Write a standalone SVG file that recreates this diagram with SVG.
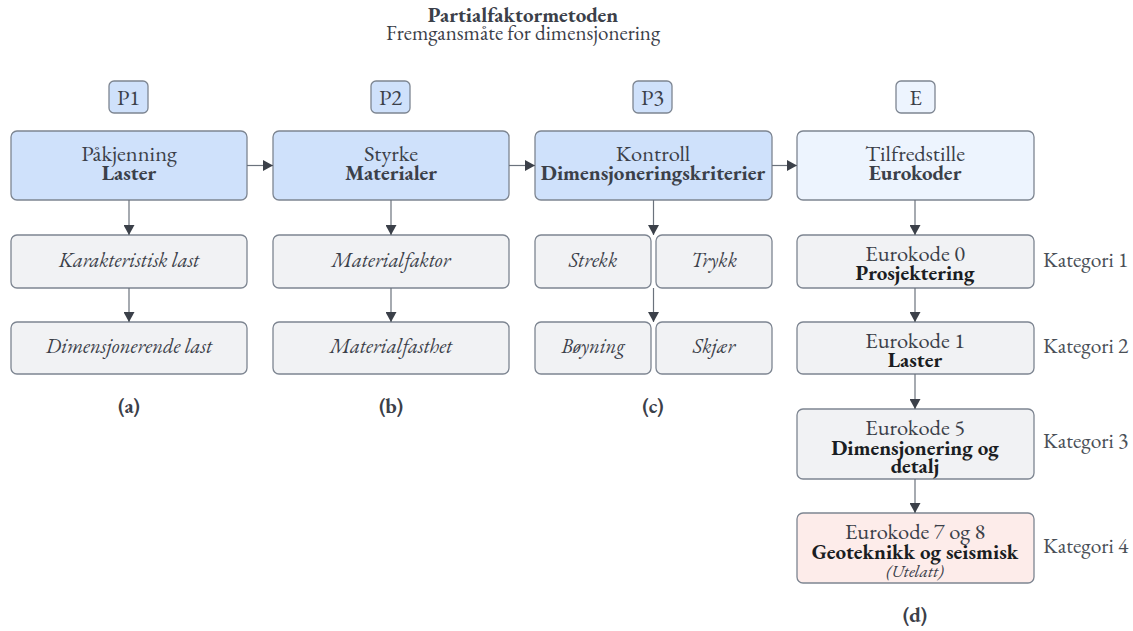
<svg xmlns="http://www.w3.org/2000/svg" width="1133" height="631" viewBox="0 0 1133 631" font-family="'EB Garamond', 'Liberation Serif', serif">
<style>
text{fill:#3b4049;text-anchor:middle}
.b{font-weight:bold}
.i{font-style:italic}
.blk{fill:#1a1d22}
.main{fill:#cfe1fb;stroke:#7d8591;stroke-width:1.3}
.mainE{fill:#edf4fe;stroke:#7d8591;stroke-width:1.3}
.tag{fill:#cfe1fb;stroke:#7d8591;stroke-width:1.3}
.tagE{fill:#edf4fe;stroke:#7d8591;stroke-width:1.3}
.sub{fill:#f1f2f4;stroke:#7d8591;stroke-width:1.3}
.red{fill:#fdecea;stroke:#7d8591;stroke-width:1.3}
.c{stroke:#6b727c;stroke-width:1.2;fill:none;marker-end:url(#ah)}
.t1{font-size:22.5px}
.t2{font-size:21px}
.ti{font-size:20.5px}
.kat{font-size:21.5px;text-anchor:start;fill:#4a4f57}
.lab{font-size:21px;font-weight:bold}
</style>
<defs>
<marker id="ah" viewBox="0 0 10 10" refX="10" refY="5" markerWidth="10" markerHeight="11" markerUnits="userSpaceOnUse" orient="auto" preserveAspectRatio="none">
<path d="M0,0 L10,5 L0,10 z" fill="#3b4049"/>
</marker>
</defs>
<g id="title" font-family="'EB Garamond', 'Liberation Serif', serif">
<text x="523" y="22" class="b" font-size="21">Partialfaktormetoden</text>
<text x="523" y="40" font-size="21">Fremgansmåte for dimensjonering</text>
</g>
<g id="tag-p1" font-family="'EB Garamond', 'Liberation Serif', serif"><rect class="tag" x="109" y="81" width="39" height="32" rx="5"/><text x="128.5" y="105" class="t1">P1</text></g>
<g id="tag-p2" font-family="'EB Garamond', 'Liberation Serif', serif"><rect class="tag" x="371" y="81" width="39" height="32" rx="5"/><text x="390.5" y="105" class="t1">P2</text></g>
<g id="tag-p3" font-family="'EB Garamond', 'Liberation Serif', serif"><rect class="tag" x="633" y="81" width="39" height="32" rx="5"/><text x="652.5" y="105" class="t1">P3</text></g>
<g id="tag-e" font-family="'EB Garamond', 'Liberation Serif', serif"><rect class="tagE" x="896" y="81" width="39" height="32" rx="5"/><text x="915.5" y="105" class="t1">E</text></g>
<g id="n-pakjenning" font-family="'EB Garamond', 'Liberation Serif', serif"><rect class="main" x="11" y="131" width="236" height="69" rx="6"/><text x="129" y="161" class="t1">Påkjenning</text><text x="129" y="180" class="t2 b">Laster</text></g>
<g id="n-styrke" font-family="'EB Garamond', 'Liberation Serif', serif"><rect class="main" x="273" y="131" width="236" height="69" rx="6"/><text x="391" y="161" class="t1">Styrke</text><text x="391" y="180" class="t2 b">Materialer</text></g>
<g id="n-kontroll" font-family="'EB Garamond', 'Liberation Serif', serif"><rect class="main" x="535" y="131" width="237" height="69" rx="6"/><text x="653" y="161" class="t1">Kontroll</text><text x="653" y="180" class="t2 b">Dimensjoneringskriterier</text></g>
<g id="n-tilfredsstille" font-family="'EB Garamond', 'Liberation Serif', serif"><rect class="mainE" x="797" y="131" width="237" height="69" rx="6"/><text x="915" y="161" class="t1">Tilfredstille</text><text x="915" y="180" class="t2 b">Eurokoder</text></g>
<g id="n-karlast" font-family="'EB Garamond', 'Liberation Serif', serif"><rect class="sub" x="11" y="235" width="236" height="53" rx="6"/><text x="129" y="267" class="ti i">Karakteristisk last</text></g>
<g id="n-dimlast" font-family="'EB Garamond', 'Liberation Serif', serif"><rect class="sub" x="11" y="322" width="236" height="52" rx="6"/><text x="129" y="353" class="ti i">Dimensjonerende last</text></g>
<g id="n-matfaktor" font-family="'EB Garamond', 'Liberation Serif', serif"><rect class="sub" x="273" y="235" width="236" height="53" rx="6"/><text x="391" y="267" class="ti i">Materialfaktor</text></g>
<g id="n-matfasthet" font-family="'EB Garamond', 'Liberation Serif', serif"><rect class="sub" x="273" y="322" width="236" height="52" rx="6"/><text x="391" y="353" class="ti i">Materialfasthet</text></g>
<g id="n-strekk" font-family="'EB Garamond', 'Liberation Serif', serif"><rect class="sub" x="535" y="235" width="116" height="53" rx="6"/><text x="593" y="267" class="ti i">Strekk</text></g>
<g id="n-trykk" font-family="'EB Garamond', 'Liberation Serif', serif"><rect class="sub" x="656" y="235" width="116" height="53" rx="6"/><text x="714" y="267" class="ti i">Trykk</text></g>
<g id="n-boyning" font-family="'EB Garamond', 'Liberation Serif', serif"><rect class="sub" x="535" y="322" width="116" height="52" rx="6"/><text x="593" y="353" class="ti i">Bøyning</text></g>
<g id="n-skjaer" font-family="'EB Garamond', 'Liberation Serif', serif"><rect class="sub" x="656" y="322" width="116" height="52" rx="6"/><text x="714" y="353" class="ti i">Skjær</text></g>
<g id="n-ek0" font-family="'EB Garamond', 'Liberation Serif', serif"><rect class="sub" x="797" y="235" width="237" height="53" rx="6"/><text x="915" y="261" class="t1">Eurokode 0</text><text x="915" y="280" class="t2 b blk">Prosjektering</text></g>
<g id="n-ek1" font-family="'EB Garamond', 'Liberation Serif', serif"><rect class="sub" x="797" y="322" width="237" height="52" rx="6"/><text x="915" y="348" class="t1">Eurokode 1</text><text x="915" y="367" class="t2 b blk">Laster</text></g>
<g id="n-ek5" font-family="'EB Garamond', 'Liberation Serif', serif"><rect class="sub" x="797" y="409" width="237" height="70" rx="6"/><text x="915" y="435" class="t1">Eurokode 5</text><text x="915" y="455" class="t2 b blk">Dimensjonering og</text><text x="915" y="473" class="t2 b blk">detalj</text></g>
<g id="n-ek78" font-family="'EB Garamond', 'Liberation Serif', serif"><rect class="red" x="797" y="513" width="237" height="70" rx="6"/><text x="915" y="539" class="t1">Eurokode 7 og 8</text><text x="915" y="559" class="t2 b blk">Geoteknikk og seismisk</text><text x="915" y="577" class="i" font-size="17.5">(Utelatt)</text></g>
<g id="kategorier" font-family="'EB Garamond', 'Liberation Serif', serif">
<text x="1043" y="267" class="kat">Kategori 1</text>
<text x="1043" y="353" class="kat">Kategori 2</text>
<text x="1043" y="448" class="kat">Kategori 3</text>
<text x="1043" y="553" class="kat">Kategori 4</text>
</g>
<g id="labels" font-family="'EB Garamond', 'Liberation Serif', serif">
<text x="129" y="413" class="lab">(a)</text>
<text x="391" y="413" class="lab">(b)</text>
<text x="653" y="413" class="lab">(c)</text>
<text x="915" y="622" class="lab">(d)</text>
</g>
<g id="connectors">
<line class="c" x1="247" y1="165.5" x2="273" y2="165.5"/>
<line class="c" x1="509" y1="165.5" x2="535" y2="165.5"/>
<line class="c" x1="772" y1="165.5" x2="797" y2="165.5"/>
<line class="c" x1="129" y1="200" x2="129" y2="235"/>
<line class="c" x1="129" y1="288" x2="129" y2="322"/>
<line class="c" x1="391" y1="200" x2="391" y2="235"/>
<line class="c" x1="391" y1="288" x2="391" y2="322"/>
<line class="c" x1="653.5" y1="200" x2="653.5" y2="235"/>
<line class="c" x1="653.5" y1="288" x2="653.5" y2="322"/>
<line class="c" x1="915" y1="200" x2="915" y2="235"/>
<line class="c" x1="915" y1="288" x2="915" y2="322"/>
<line class="c" x1="915" y1="374" x2="915" y2="409"/>
<line class="c" x1="915" y1="479" x2="915" y2="513"/>
</g>
</svg>
